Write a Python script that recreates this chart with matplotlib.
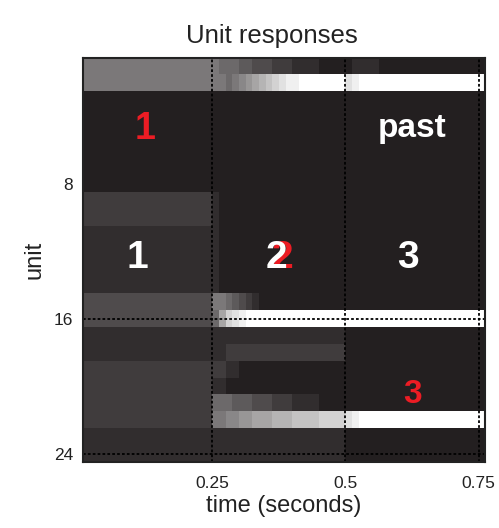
import numpy as np
import matplotlib
matplotlib.use('Agg')
import matplotlib.pyplot as plt
from matplotlib.colors import LinearSegmentedColormap

# response level per unit (rows 1..24) and time bin (0.0125 s bins from 0 to 0.775 s)
# hex digit 0..f = activation level, segments: [0,0.25) [0.25,0.5) [0.5,0.775)
unit_rows = [
    "66666666666666666666 65554433322211110000 0111100000000000000000",  # 1
    "66666666666666666666 6656789abcdeefffffff deffffffffffffffffffff",  # 2
    "00000000000000000000 00000000000000000000 0000000000000000000000",  # 3
    "00000000000000000000 00000000000000000000 0000000000000000000000",  # 4
    "00000000000000000000 00000000000000000000 0000000000000000000000",  # 5
    "00000000000000000000 00000000000000000000 0000000000000000000000",  # 6
    "00000000000000000000 00000000000000000000 0000000000000000000000",  # 7
    "00000000000000000000 00000000000000000000 0000000000000000000000",  # 8
    "22222222222222222222 10000000000000000000 0000000000000000000000",  # 9
    "22222222222222222222 10000000000000000000 0000000000000000000000",  # 10
    "11111111111111111111 10000000000000000000 0000000000000000000000",  # 11
    "11111111111111111111 10000000000000000000 0000000000000000000000",  # 12
    "11111111111111111111 10000000000000000000 0000000000000000000000",  # 13
    "11111111111111111111 10000000000000000000 0000000000000000000000",  # 14
    "33333333333333333333 66543210000000000000 0000000000000000000000",  # 15
    "33333333333333333333 59cdefffffffffffffff ffffffffffffffffffffff",  # 16
    "11111111111111111111 11111111111111111111 0000000000000000000000",  # 17
    "11111111111111111111 11222222222222222222 0000000000000000000000",  # 18
    "22222222222222222222 22110000000000000000 0000000000000000000000",  # 19
    "22222222222222222222 11000000000000000000 0000000000000000000000",  # 20
    "22222222222222222222 55544433322211110000 0000000000000000000000",  # 21
    "22222222222222222222 667788999aaabbbbcccc deffffffffffffffffffff",  # 22
    "11111111111111111111 11111111111111111111 0000000000000000000000",  # 23
    "11111111111111111111 11111111111111111111 0000000000000000000000",  # 24
]
bin_width = 0.0125
units = np.arange(1, 25)
time_ticks = [0.25, 0.5, 0.75]
time_tick_labels = ['0.25', '0.5', '0.75']
unit_ticks = [8, 16, 24]
event_times = [0.25, 0.5, 0.75]
event_units = [16, 24]

# labels drawn on the map: (text, time, unit, size)
labels_white = [('past', 0.626, 4.7, 24), ('1', 0.11, 12.4, 28),
                ('2', 0.370, 12.4, 28), ('3', 0.617, 12.4, 28)]
labels_red = [('1', 0.123, 4.7, 27), ('2', 0.381, 12.4, 28), ('3', 0.625, 20.5, 24)]

resp = np.array([[int(c, 16) / 15 for c in r.replace(' ', '')] for r in unit_rows])
n_bins = resp.shape[1]

cmap = LinearSegmentedColormap.from_list('resp', ['#231f20', '#ffffff'])

fonts = ['Liberation Sans', 'DejaVu Sans']
plt.rcParams['font.family'] = fonts

fig = plt.figure(figsize=(4.99, 5.28), dpi=100)
ax = fig.add_axes([0.1663, 0.125, 0.8056, 0.7652])

ax.imshow(resp, cmap=cmap, vmin=0, vmax=1, aspect='auto', interpolation='nearest',
          extent=[0, n_bins * bin_width, units[-1] + 0.5, units[0] - 0.5])

for t in event_times:
    ax.axvline(t, color='black', lw=1.3, ls=(0, (1.5, 1.2)))
for u in event_units:
    ax.axhline(u, color='black', lw=1.3, ls=(0, (1.5, 1.2)))

for txt, t, u, sz in labels_red:
    ax.text(t, u, txt, color='#ec1c24', fontsize=sz, fontweight='bold',
            ha='center', va='center')
for txt, t, u, sz in labels_white:
    ax.text(t, u, txt, color='white', fontsize=sz, fontweight='bold',
            ha='center', va='center')

ax.set_xlim(0.007, 0.762)
ax.set_ylim(24.5, 0.5)
ax.set_xticks(time_ticks)
ax.set_xticklabels(time_tick_labels)
ax.set_yticks(unit_ticks)
ax.tick_params(axis='x', length=0, labelsize=12.5, colors='#222222', pad=10)
ax.tick_params(axis='y', length=0, labelsize=12.5, colors='#222222', pad=7)
for s in ax.spines.values():
    s.set_linewidth(1.5)
    s.set_color('#222222')

ax.set_xlabel('time (seconds)', fontsize=17, color='#222222', labelpad=3)
ax.set_ylabel('unit', fontsize=17, color='#222222', labelpad=6)
ax.set_title('Unit responses', fontsize=18.5, color='#222222', x=0.47, pad=11)

fig.savefig('out.png', dpi=100)
